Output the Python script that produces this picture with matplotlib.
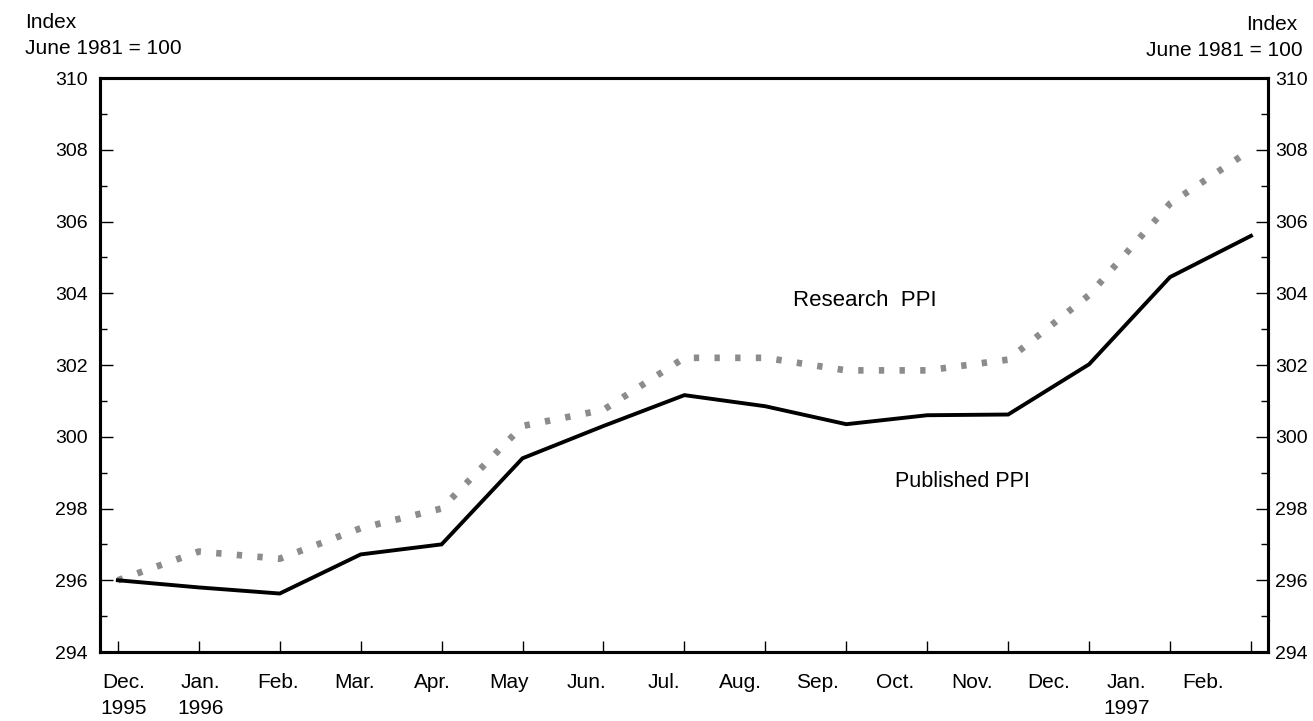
import numpy as np
import matplotlib
matplotlib.use("Agg")
import matplotlib.pyplot as plt

# monthly values, Dec. 1995 .. Feb. 1997
months = ["Dec.\n1995", "Jan.\n1996", "Feb.", "Mar.", "Apr.", "May", "Jun.", "Jul.",
          "Aug.", "Sep.", "Oct.", "Nov.", "Dec.", "Jan.\n1997", "Feb."]
published_ppi = [296.0, 295.8, 295.63, 296.72, 297.0, 299.4, 300.3, 301.16,
                 300.85, 300.35, 300.6, 300.62, 302.02, 304.45, 305.6]
research_ppi = [296.0, 296.8, 296.6, 297.45, 298.0, 300.3, 300.75, 302.2,
                302.2, 301.85, 301.85, 302.15, 303.95, 306.5, 308.0]
y_ticks = [294, 296, 298, 300, 302, 304, 306, 308, 310]


def make_chart():
    plt.rcParams['font.family'] = ['Liberation Sans', 'DejaVu Sans']

    fig = plt.figure(figsize=(13.13, 7.21), dpi=100)
    ax = fig.add_axes([0.0762, 0.0957, 0.8895, 0.7961])

    x = np.arange(len(months))

    ax.plot(x, research_ppi, color='#8c8c8c', linewidth=4.8,
            linestyle=(0, (0.8, 2.3)), dash_capstyle='butt', zorder=2)
    ax.plot(x, published_ppi, color='black', linewidth=2.8,
            solid_joinstyle='miter', zorder=3)

    ax.set_xlim(-0.22, 14.21)
    ax.set_ylim(294, 310)

    # month ticks inward, labels drift a bit left like the original print
    ax.set_xticks(x)
    ax.set_xticklabels([])
    ax.tick_params(axis='x', which='major', direction='in', length=8, width=1)
    label_pos = 0.07 + 0.953 * x
    ax.set_xticks(label_pos, minor=True)
    ax.set_xticklabels(months, minor=True, fontsize=15, linespacing=1.45)
    ax.tick_params(axis='x', which='minor', length=0, pad=15)

    ax.set_yticks(y_ticks)
    ax.set_yticks(np.arange(295, 310, 2), minor=True)
    ax.tick_params(axis='y', which='major', direction='in', length=9, width=1,
                   labelsize=14, pad=9)
    ax.tick_params(axis='y', which='minor', direction='in', length=5, width=1)

    ax2 = ax.twinx()
    ax2.set_ylim(294, 310)
    ax2.set_yticks(y_ticks)
    ax2.set_yticks(np.arange(295, 310, 2), minor=True)
    ax2.tick_params(axis='y', which='major', direction='in', length=9, width=1,
                    labelsize=14, pad=5)
    ax2.tick_params(axis='y', which='minor', direction='in', length=5, width=1)

    for a in (ax, ax2):
        for side in a.spines.values():
            side.set_linewidth(2.2)

    ax.text(9.23, 303.8, "Research  PPI", fontsize=16, ha='center', va='center')
    ax.text(10.43, 298.75, "Published PPI", fontsize=15.5, ha='center', va='center')

    fig.text(25 / 1313, 1 - 22 / 721, "Index", fontsize=15, ha='left', va='center')
    fig.text(25 / 1313, 1 - 49 / 721, "June 1981 = 100", fontsize=15,
             ha='left', va='center')
    fig.text(1297 / 1313, 1 - 25 / 721, "Index", fontsize=15, ha='right', va='center')
    fig.text(1303 / 1313, 1 - 51 / 721, "June 1981 = 100", fontsize=15,
             ha='right', va='center')

    fig.savefig('out.png', dpi=100)


if __name__ == "__main__":
    make_chart()
